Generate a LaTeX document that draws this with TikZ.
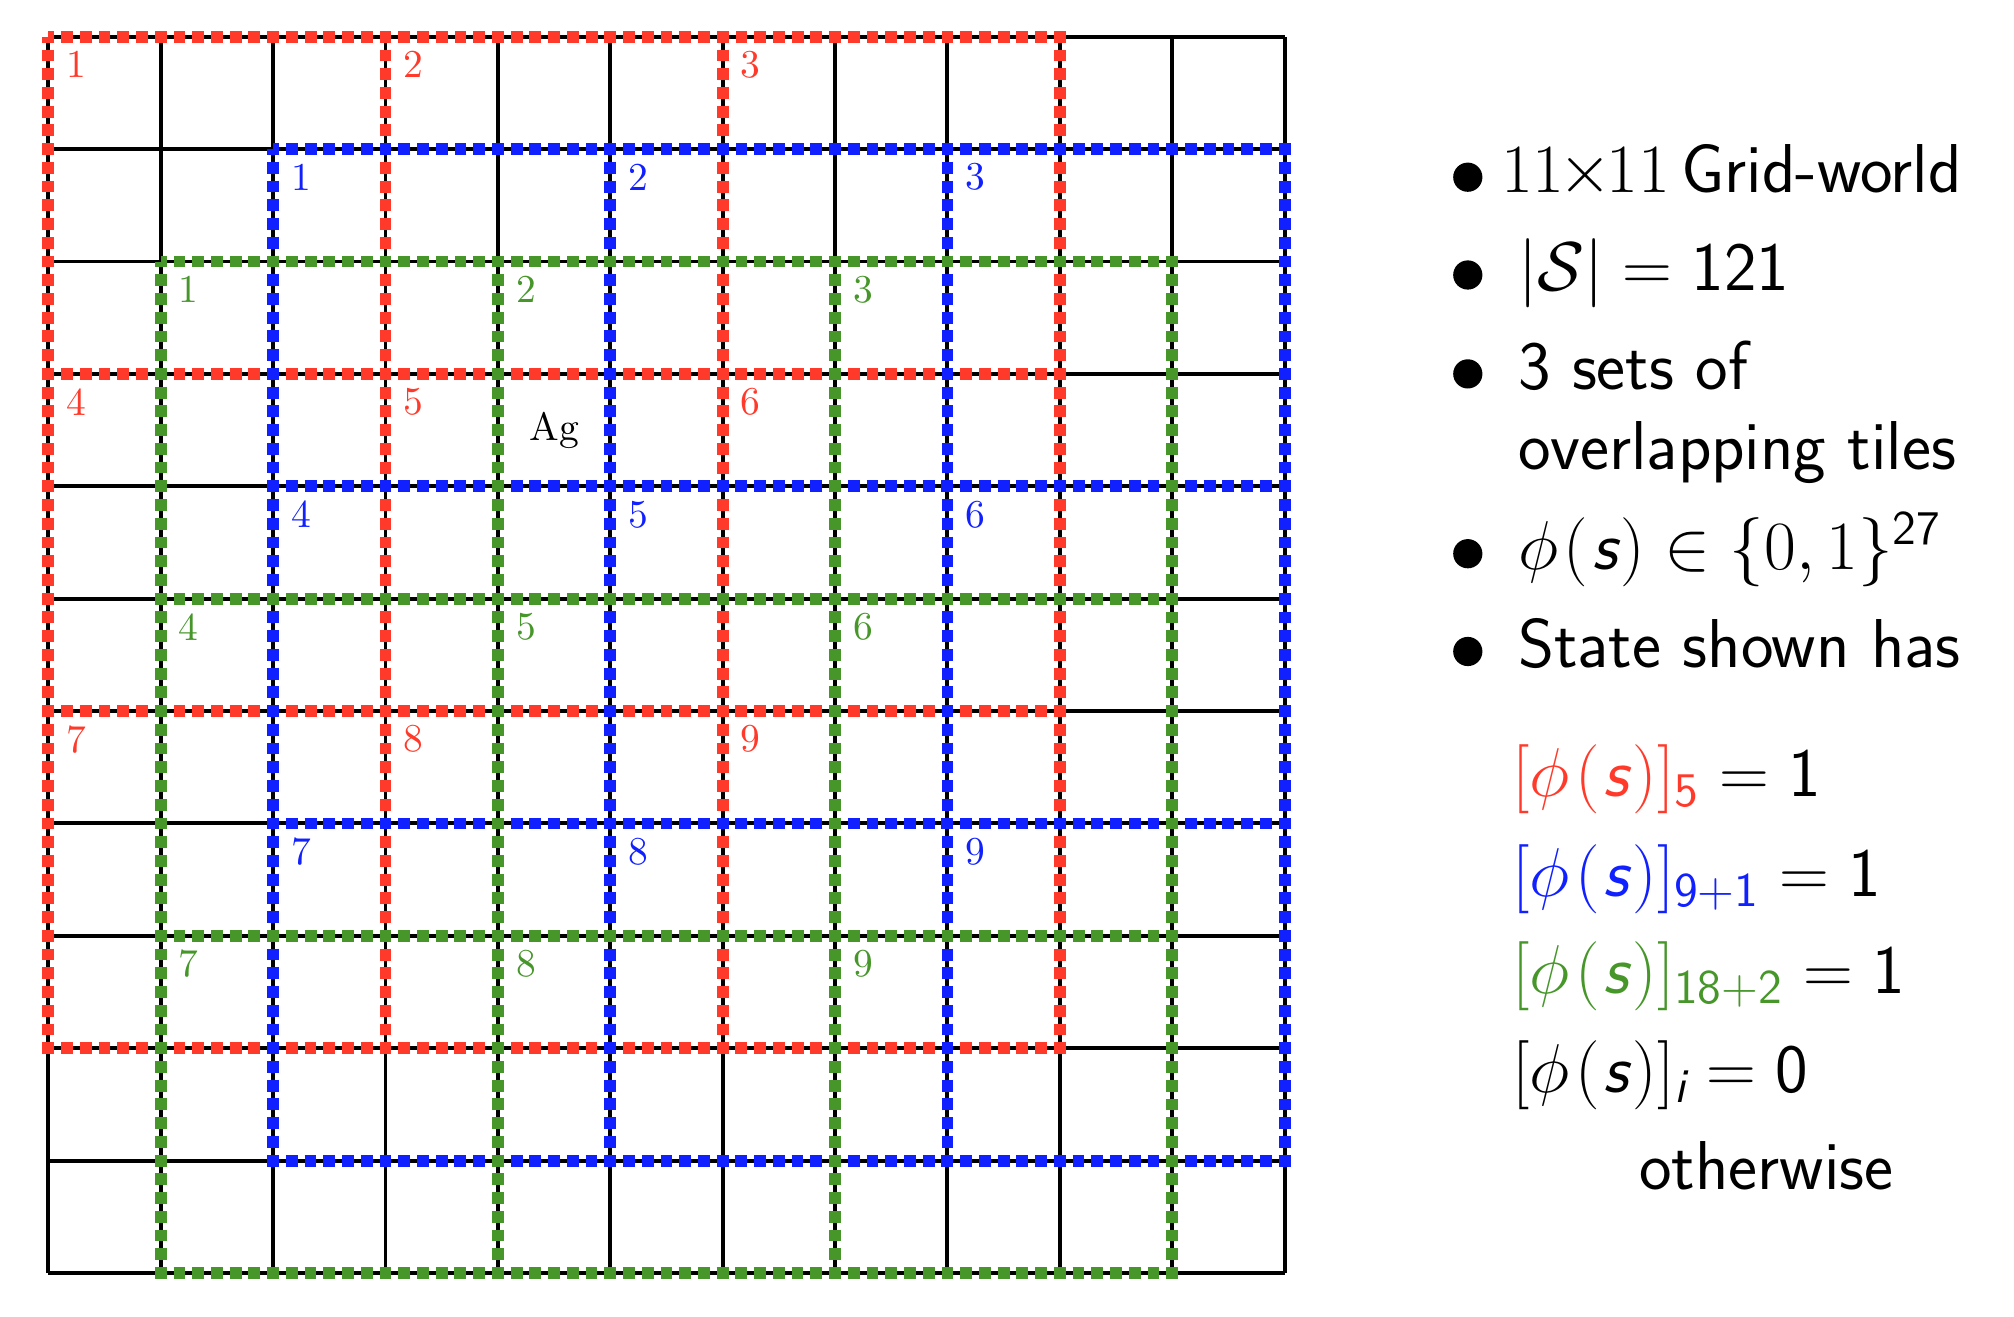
\documentclass[tikz,border=0pt]{standalone}
\usepackage{fix-cm}
\usepackage{amsmath}
\usepackage{amssymb}
\usepackage{tikz}
\definecolor{tilered}{RGB}{255,58,42}
\definecolor{tileblue}{RGB}{16,32,255}
\definecolor{tilegreen}{RGB}{70,150,42}
\newcommand{\svar}[1]{\text{\sffamily\slshape #1}}
\newcommand{\phiofs}{\phi\mkern1.5mu(\mkern1mu\svar{s}\mkern1mu)}
\tikzstyle{gridline} = [black, line width=1pt]
\tikzstyle{tile} = [line width=3pt, dash pattern=on 3pt off 1.742pt, dash phase=1.5pt]
\tikzstyle{tilenum} = [inner sep=0pt, font=\fontsize{10}{12}\selectfont]
\tikzstyle{itemtext} = [anchor=base west, inner sep=0pt, font=\fontsize{17.5}{21}\selectfont\sffamily]
\tikzstyle{itemdot} = [circle, fill=black, inner sep=0pt, minimum size=0.26cm]
% one set of 3x3 tiles: colour, name, left, top
\newcommand{\tileset}[4]{%
  \foreach \i in {0,1,2}{
    \foreach \j in {0,1,2}{
      \pgfmathtruncatemacro{\tnum}{3*\j+\i+1}
      \draw[tile, #1] (#3+3*\i, #4-3*\j) rectangle ++(3,-3);
      \node[tilenum, text=#1] (#2\tnum) at (#3+3*\i+0.25, #4-3*\j-0.25) {\tnum};
    }
  }
}

\begin{document}
\begin{tikzpicture}
		\useasboundingbox (-0.43,-0.385) rectangle (17.49,11.327);
		\draw[gridline] (0,0) grid (11,11);
		\tileset{tilered}{red}{0}{11}
		\tileset{tileblue}{blue}{2}{10}
		\tileset{tilegreen}{green}{1}{9}
		\node[tilenum] (agent) at (4.5,7.5) {Ag};
		
		\node[itemdot] (dot1) at (12.63,9.75) {};
		\node[itemtext] (item1) at (12.92,9.61) {$11\mkern-1.5mu{\times}\mkern-1.5mu11$\hspace{0.1cm}Grid-world};
		\node[itemdot] (dot2) at (12.63,8.88) {};
		\node[itemtext] (item2) at (13.07,8.74) {$|\mathcal{S}| = \mathsf{121}$};
		\node[itemdot] (dot3) at (12.63,8.00) {};
		\node[itemtext] (item3) at (13.07,7.86) {3 sets of};
		\node[itemtext] (item3b) at (13.07,7.15) {overlapping tiles};
		\node[itemdot] (dot4) at (12.63,6.40) {};
		\node[itemtext] (item4) at (13.07,6.26) {$\phiofs \in \{0,1\}^{\mathsf{27}}$};
		\node[itemdot] (dot5) at (12.63,5.53) {};
		\node[itemtext] (item5) at (13.07,5.39) {State shown has};
		
		\node[itemtext] (redset) at (13.02,4.24) {$\textcolor{tilered}{[\phiofs]_{\mathsf{5}}} = \mathsf{1}$};
		\node[itemtext] (blueset) at (13.02,3.35) {$\textcolor{tileblue}{[\phiofs]_{\mathsf{9+1}}} = \mathsf{1}$};
		\node[itemtext] (greenset) at (13.02,2.49) {$\textcolor{tilegreen}{[\phiofs]_{\mathsf{18+2}}} = \mathsf{1}$};
		\node[itemtext] (otherset) at (13.02,1.61) {$[\phiofs]_{\svar{i}} = \mathsf{0}$};
		\node[itemtext] (otherwise) at (14.15,0.74) {otherwise};
	\end{tikzpicture}
\end{document}
